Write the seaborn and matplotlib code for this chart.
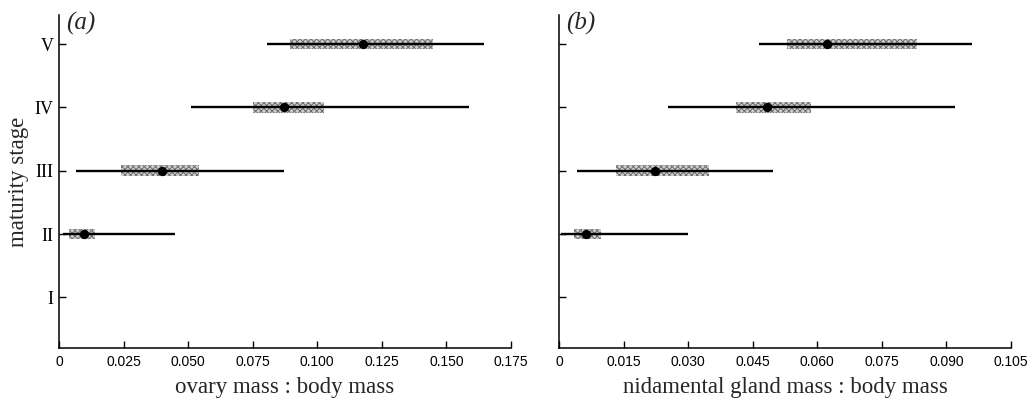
import numpy as np
import pandas as pd
import matplotlib
matplotlib.use("Agg")
import matplotlib.pyplot as plt
import seaborn as sns

# ---- data ----
stages = ["I", "II", "III", "IV", "V"]
stage_pos = [1, 2, 3, 4, 5]

# panel (a): ovary mass : body mass (stages II..V)
a_stages = ["II", "III", "IV", "V"]
a_min = [0.0015, 0.0066, 0.0511, 0.0805]
a_q1 = [0.0039, 0.0240, 0.0751, 0.0894]
a_med = [0.0097, 0.0399, 0.0871, 0.1177]
a_q3 = [0.0139, 0.0542, 0.1026, 0.1448]
a_max = [0.0449, 0.0871, 0.1587, 0.1645]
a_ticks = [0, 0.025, 0.050, 0.075, 0.100, 0.125, 0.150, 0.175]
a_ticklabels = ["0", "0.025", "0.050", "0.075", "0.100", "0.125", "0.150", "0.175"]

# panel (b): nidamental gland mass : body mass
b_stages = ["II", "III", "IV", "V"]
b_min = [0.0005, 0.0042, 0.0253, 0.0465]
b_q1 = [0.0035, 0.0132, 0.0411, 0.0530]
b_med = [0.0063, 0.0223, 0.0483, 0.0623]
b_q3 = [0.0098, 0.0349, 0.0585, 0.0832]
b_max = [0.0300, 0.0497, 0.0920, 0.0959]
b_ticks = [0, 0.015, 0.030, 0.045, 0.060, 0.075, 0.090, 0.105]
b_ticklabels = ["0", "0.015", "0.030", "0.045", "0.060", "0.075", "0.090", "0.105"]

sns.set_style("ticks")
plt.rcParams["hatch.color"] = "#6e6e6e"
plt.rcParams["hatch.linewidth"] = 0.7

fig = plt.figure(figsize=(10.29, 4.01), dpi=100)
axA = fig.add_axes([0.0573, 0.1322, 0.4393, 0.8304])
axB = fig.add_axes([0.5432, 0.1322, 0.4393, 0.8304])

serif = "Liberation Serif"
sans = "Liberation Sans"
pos_map = dict(zip(stages, stage_pos))


def draw(ax, st, mn, q1, md, q3, mx, ticks, ticklabels, xlabel, panel, show_y):
    df = pd.DataFrame({"stage": st, "y": [pos_map[s] for s in st],
                       "min": mn, "q1": q1, "med": md, "q3": q3, "max": mx})
    ax.barh(df["y"], df["q3"] - df["q1"], left=df["q1"], height=0.17,
            color="#cfcfcf", edgecolor="#6e6e6e", linewidth=0,
            hatch="xxxxxx", zorder=1)
    ax.hlines(df["y"], df["min"], df["max"], color="black", lw=1.7, zorder=2)
    sns.scatterplot(data=df, x="med", y="y", ax=ax, color="black", s=45,
                    edgecolor="black", linewidth=0, zorder=3, legend=False)
    ax.set_xlim(ticks[0], ticks[-1])
    ax.set_ylim(0.2, 5.46)
    ax.set_xticks(ticks)
    ax.set_xticklabels(ticklabels, fontfamily=sans, fontsize=10)
    ax.set_yticks(stage_pos)
    if show_y:
        ax.set_yticklabels(stages, fontfamily=serif, fontsize=13)
        ax.set_ylabel("maturity stage", fontfamily=serif, fontsize=16.5, labelpad=4)
    else:
        ax.set_yticklabels([])
        ax.set_ylabel("")
    ax.set_xlabel(xlabel, fontfamily=serif, fontsize=16.5, labelpad=6)
    ax.tick_params(direction="in", length=5, width=1, colors="black")
    ax.tick_params(axis="y", pad=4)
    ax.tick_params(axis="x", pad=5)
    for side in ["top", "right"]:
        ax.spines[side].set_visible(False)
    for side in ["left", "bottom"]:
        ax.spines[side].set_linewidth(1.1)
        ax.spines[side].set_color("black")
    ax.text(0.015, 1.01, panel, transform=ax.transAxes, fontfamily=serif,
            fontstyle="italic", fontsize=18, va="top", ha="left")


draw(axA, a_stages, a_min, a_q1, a_med, a_q3, a_max, a_ticks, a_ticklabels,
     "ovary mass : body mass", "(a)", True)
draw(axB, b_stages, b_min, b_q1, b_med, b_q3, b_max, b_ticks, b_ticklabels,
     "nidamental gland mass : body mass", "(b)", False)

fig.savefig("out.png", dpi=100, facecolor="white")
